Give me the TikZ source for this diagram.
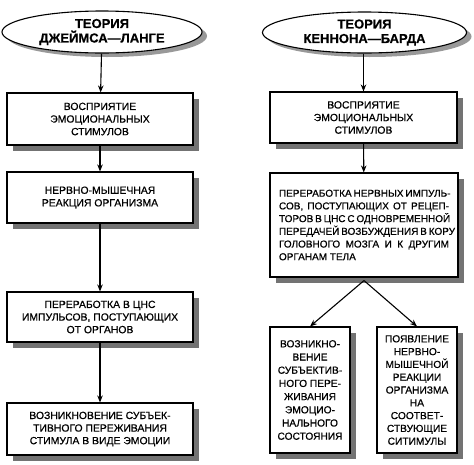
\documentclass[tikz,border=0pt]{standalone}
\usepackage{fontspec}
\setmainfont[FakeBold=0.6]{Liberation Sans}
\usetikzlibrary{arrows.meta,shadows,shapes.geometric}
\tikzset{
  shd/.style={drop shadow={shadow xshift=6pt,shadow yshift=-6pt,fill=black!55,opacity=1}},
  stepbox/.style={draw=black,line width=1.1pt,fill=white,shd,align=center,inner sep=2pt,
    font=\fontsize{10.4}{12.6}\selectfont},
  oval/.style={draw=black,line width=1.1pt,fill=white,ellipse,inner sep=0pt,align=center,
    drop shadow={shadow xshift=5pt,shadow yshift=-4pt,fill=black!40,opacity=1},
    font=\bfseries\fontsize{13}{14.5}\selectfont},
  arr/.style={draw=black,line width=1.1pt,-{Stealth[length=7pt,width=5.5pt]}}
}
\begin{document}
\begin{tikzpicture}[x=1pt,y=-1pt]
\useasboundingbox (0,0) rectangle (474,464);
\node[oval,minimum width=200,minimum height=42] (lt) at (102,32) {ТЕОРИЯ\\ДЖЕЙМСА—ЛАНГЕ};
\node[oval,minimum width=204,minimum height=41] (rt) at (364.5,32.5) {ТЕОРИЯ\\КЕННОНА—БАРДА};
\node[stepbox,minimum width=186,minimum height=52] (l1) at (100,119) {ВОСПРИЯТИЕ\\ЭМОЦИОНАЛЬНЫХ\\СТИМУЛОВ};
\node[stepbox,minimum width=186,minimum height=51] (l2) at (100,197.5) {НЕРВНО-МЫШЕЧНАЯ\\РЕАКЦИЯ ОРГАНИЗМА};
\node[stepbox,minimum width=186,minimum height=50] (l3) at (100,317) {ПЕРЕРАБОТКА В ЦНС\\ИМПУЛЬСОВ, ПОСТУПАЮЩИХ\\ОТ ОРГАНОВ};
\node[stepbox,minimum width=186,minimum height=52] (l4) at (100,429) {ВОЗНИКНОВЕНИЕ СУБЪЕК-\\ТИВНОГО ПЕРЕЖИВАНИЯ\\СТИМУЛА В ВИДЕ ЭМОЦИИ};
\node[stepbox,minimum width=187,minimum height=51] (r1) at (363.5,117.5) {ВОСПРИЯТИЕ\\ЭМОЦИОНАЛЬНЫХ\\СТИМУЛОВ};
\node[stepbox,minimum width=188,minimum height=104,align=left,font=\fontsize{10}{12.7}\selectfont] (r2) at (364,225) {%
\makebox[170pt][s]{ПЕРЕРАБОТКА НЕРВНЫХ ИМПУЛЬ-}\\
\makebox[170pt][s]{СОВ, ПОСТУПАЮЩИХ ОТ РЕЦЕП-}\\
\makebox[170pt][s]{ТОРОВ В ЦНС С ОДНОВРЕМЕННОЙ}\\
\makebox[170pt][s]{ПЕРЕДАЧЕЙ ВОЗБУЖДЕНИЯ В КОРУ}\\
\makebox[170pt][s]{ГОЛОВНОГО МОЗГА И К ДРУГИМ}\\
\makebox[170pt][l]{ОРГАНАМ ТЕЛА}};
\node[stepbox,minimum width=80,minimum height=126,font=\fontsize{10.2}{13.2}\selectfont] (r3) at (310,390) {ВОЗНИКНО-\\ВЕНИЕ\\СУБЪЕКТИВ-\\НОГО ПЕРЕ-\\ЖИВАНИЯ\\ЭМОЦИО-\\НАЛЬНОГО\\СОСТОЯНИЯ};
\node[stepbox,minimum width=80,minimum height=126,font=\fontsize{10.2}{12.8}\selectfont] (r4) at (417,390) {ПОЯВЛЕНИЕ\\НЕРВНО-\\МЫШЕЧНОЙ\\РЕАКЦИИ\\ОРГАНИЗМА\\НА\\СООТВЕТ-\\СТВУЮЩИЕ\\СИТИМУЛЫ};
\draw[arr] (lt) -- (l1);
\draw[arr] (l1) -- (l2);
\draw[arr] (l2) -- (l3);
\draw[arr] (l3) -- (l4);
\draw[arr] (rt.south -| r1.north) -- (r1.north);
\draw[arr] (r1) -- (r2);
\coordinate (fork) at ([yshift=-3pt]r2.south);
\draw[arr] (fork) -- (r3.north);
\draw[arr] (fork) -- (r4.north);
\end{tikzpicture}
\end{document}
